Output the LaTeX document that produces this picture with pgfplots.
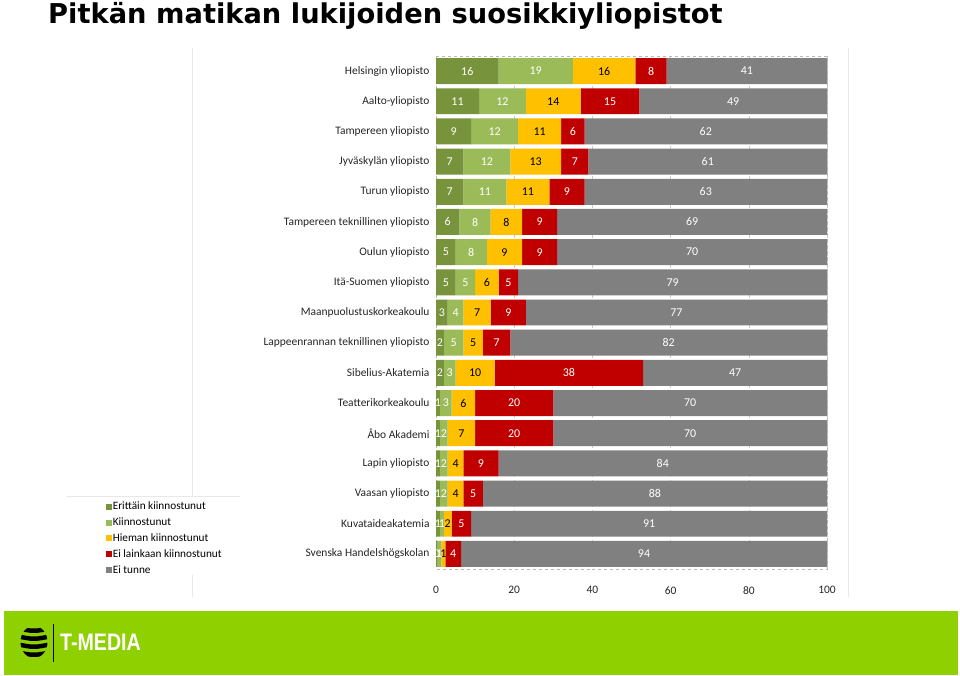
\documentclass[border=0pt]{standalone}
\usepackage{pgfplots}
\pgfplotsset{compat=1.18}
\usepackage{pgfplotstable}
\usepackage{fontspec}
\setmainfont{Carlito}
\newfontfamily\titlefont{DejaVu Sans}
\newfontfamily\logofont{Liberation Sans}

\definecolor{cDG}{RGB}{119,147,60}
\definecolor{cLG}{RGB}{155,187,89}
\definecolor{cYE}{RGB}{255,192,0}
\definecolor{cRE}{RGB}{192,0,0}
\definecolor{cGR}{RGB}{128,128,128}
\definecolor{cLime}{RGB}{143,209,0}

% values a..e as drawn (bars end at 100); labels la..le as printed
\pgfplotstableread{
id a b c d e la lb lc ld le
0 16 19 16 8 41 16 19 16 8 41
1 11 12 14 15 48 11 12 14 15 49
2 9 12 11 6 62 9 12 11 6 62
3 7 12 13 7 61 7 12 13 7 61
4 7 11 11 9 62 7 11 11 9 63
5 6 8 8 9 69 6 8 8 9 69
6 5 8 9 9 69 5 8 9 9 70
7 5 5 6 5 79 5 5 6 5 79
8 3 4 7 9 77 3 4 7 9 77
9 2 5 5 7 81 2 5 5 7 82
10 2 3 10 38 47 2 3 10 38 47
11 1 3 6 20 70 1 3 6 20 70
12 1 2 7 20 70 1 2 7 20 70
13 1 2 4 9 84 1 2 4 9 84
14 1 2 4 5 88 1 2 4 5 88
15 1 1 2 5 91 1 1 2 5 91
16 0.4 1 1 4 93.6 0 1 1 4 94
}\data

\begin{document}
\begin{tikzpicture}
\begin{scope}[x=1bp,y=1bp]
\useasboundingbox (0,0) rectangle (960,676);
\fill[white] (0,0) rectangle (960,676);
% title
\node[anchor=base west, inner sep=0pt, font=\titlefont\bfseries\fontsize{27.4}{30}\selectfont] at (48,652.5) {Pitkän matikan lukijoiden suosikkiyliopistot};
% faint frame lines
\draw[gray!18, line width=0.8bp] (192.5,628) -- (192.5,180);
\draw[gray!18, line width=0.8bp] (192.5,101) -- (192.5,79);
\draw[gray!18, line width=0.8bp] (66,179.5) -- (240,179.5);
\draw[gray!18, line width=0.8bp] (848.5,628) -- (848.5,79);
% bottom band
\fill[cLime] (4,1) rectangle (958,65);
\begin{scope}
\clip (34,34) ellipse (13.5 and 16);
\foreach \yy in {22,30,38,46} {\fill[black] (15,\yy) .. controls (34,\yy-4) .. (53,\yy) -- (53,\yy+4.5) .. controls (34,\yy+0.5) .. (15,\yy+4.5) -- cycle;}
\end{scope}
\draw[black, line width=0.8bp] (53,14) -- (53,52);
\node[anchor=west, inner sep=0pt, text=white, xscale=0.82, font=\logofont\bfseries\fontsize{24}{26}\selectfont] at (60,34) {T-MEDIA};
\end{scope}

\begin{axis}[
  at={(436bp,107bp)}, anchor=south west,
  scale only axis, width=391bp, height=513bp,
  xbar stacked, bar width=0.86,
  xmin=0, xmax=100, ymin=-0.5, ymax=16.5, y dir=reverse,
  xtick={0,20,...,100}, ytick={0,...,16},
  yticklabels={Helsingin yliopisto, Aalto-yliopisto, Tampereen yliopisto, Jyväskylän yliopisto, Turun yliopisto, Tampereen teknillinen yliopisto, Oulun yliopisto, Itä-Suomen yliopisto, Maanpuolustuskorkeakoulu, Lappeenrannan teknillinen yliopisto, Sibelius-Akatemia, Teatterikorkeakoulu, Åbo Akademi, Lapin yliopisto, Vaasan yliopisto, Kuvataideakatemia, Svenska Handelshögskolan},
  xmajorgrids, grid style={dashed, gray!40},
  axis line style={dashed, gray!55},
  major tick length=0pt,
  tick label style={font=\fontsize{11.5}{13}\selectfont, text=black!85},
  xticklabel style={yshift=-14bp},
  yticklabel style={xshift=-3bp},
  /pgf/number format/assume math mode=true,
  legend image code/.code={\fill[#1] (0bp,-3bp) rectangle (6bp,3bp);},
  legend cell align=left,
  legend style={draw=none, fill=none, at={(-0.845,0.133)}, anchor=north west,
    font=\fontsize{11.3}{13}\selectfont, inner sep=0pt, row sep=4.6bp, nodes={inner sep=1bp}},
  nodes near coords, point meta=explicit symbolic,
  every node near coord/.append style={anchor=center, inner sep=0.5bp, font=\fontsize{12}{13}\selectfont},
]
\addplot[fill=cDG, draw=none, every node near coord/.append style={text=white}]
  table[x=a, y=id, meta=la] {\data};
\addlegendentry{Erittäin kiinnostunut}
\addplot[fill=cLG, draw=none, every node near coord/.append style={text=white}]
  table[x=b, y=id, meta=lb] {\data};
\addlegendentry{Kiinnostunut}
\addplot[fill=cYE, draw=none, every node near coord/.append style={text=black}]
  table[x=c, y=id, meta=lc] {\data};
\addlegendentry{Hieman kiinnostunut}
\addplot[fill=cRE, draw=none, every node near coord/.append style={text=white}]
  table[x=d, y=id, meta=ld] {\data};
\addlegendentry{Ei lainkaan kiinnostunut}
\addplot[fill=cGR, draw=none, every node near coord/.append style={text=white}]
  table[x=e, y=id, meta=le] {\data};
\addlegendentry{Ei tunne}
\end{axis}
\end{tikzpicture}
\end{document}
